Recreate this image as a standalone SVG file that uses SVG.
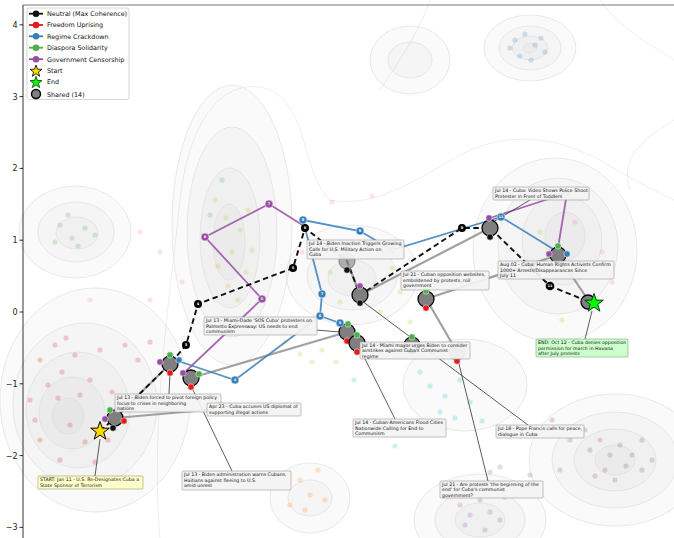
<svg xmlns="http://www.w3.org/2000/svg" width="674" height="538" viewBox="0 0 674 538">
  <style>
    text { font-family: 'DejaVu Sans', 'Liberation Sans', sans-serif; }
    .kde { fill: #000; fill-opacity: 0.018; stroke: #dadada; stroke-width: 0.6; }
    .kdeline { fill: none; stroke: #e2e2e2; stroke-width: 0.6; }
    .pt { stroke: none; fill-opacity: 0.22; }
    .shared { stroke: #8a8a8a; stroke-opacity: 0.8; stroke-width: 2.2; fill: none; stroke-linecap: round; }
    .leader { stroke: #333; stroke-width: 0.8; fill: none; }
    .neutral { stroke: #111; stroke-width: 1.9; fill: none; stroke-dasharray: 5.5 3.5; }
    .crack { stroke: #377eb8; stroke-width: 1.8; fill: none; stroke-opacity: 0.85; }
    .censor { stroke: #984ea3; stroke-width: 1.8; fill: none; stroke-opacity: 0.85; }
    .node { fill: #7f7f7f; stroke: #000; stroke-width: 1.3; }
    .node-faint { fill: #9a9a9a; fill-opacity: 0.75; stroke: #8a8a8a; stroke-width: 1.1; }
    .badge { stroke: #fff; stroke-width: 0.5; }
    .num { fill: #fff; font-size: 3.6px; font-weight: bold; text-anchor: middle; }
    .box { fill: #f3f3f3; fill-opacity: 0.92; stroke: #9a9a9a; stroke-width: 0.6; }
    .lbl { font-size: 4.7px; fill: #111; }
    .leg { font-size: 6.4px; fill: #111; }
    .tick { font-size: 8px; fill: #222; text-anchor: end; }
  </style>

  <rect x="0" y="0" width="674" height="538" fill="#ffffff"/>

  <!-- density contours -->
  <g id="density">
    <path class="kdeline" d="M160,540 C150,420 170,300 180,200 C190,110 230,75 270,90 C310,110 300,170 330,200 C380,210 430,170 470,150 C520,130 560,140 600,160 C650,190 674,200 674,200"/>
    <path class="kdeline" d="M430,0 C420,30 400,60 380,90 M600,0 C620,30 660,50 674,60 M674,120 C640,140 620,160 630,190"/>
    <ellipse class="kde" cx="95" cy="400" rx="95" ry="112"/>
    <ellipse class="kde" cx="85" cy="405" rx="72" ry="82"/>
    <ellipse class="kde" cx="78" cy="410" rx="52" ry="58"/>
    <ellipse class="kde" cx="72" cy="413" rx="33" ry="36"/>
    <ellipse class="kde" cx="68" cy="416" rx="16" ry="18"/>

    <ellipse class="kde" cx="75" cy="232" rx="56" ry="46"/>
    <ellipse class="kde" cx="76" cy="232" rx="38" ry="30"/>
    <ellipse class="kde" cx="77" cy="233" rx="21" ry="16"/>

    <ellipse class="kde" cx="232" cy="225" rx="60" ry="140"/>
    <ellipse class="kde" cx="232" cy="232" rx="45" ry="105"/>
    <ellipse class="kde" cx="230" cy="238" rx="30" ry="70"/>
    <ellipse class="kde" cx="229" cy="242" rx="16" ry="38"/>

    <ellipse class="kde" cx="352" cy="275" rx="66" ry="50"/>
    <ellipse class="kde" cx="352" cy="276" rx="45" ry="34"/>
    <ellipse class="kde" cx="352" cy="278" rx="24" ry="18"/>

    <ellipse class="kde" cx="555" cy="250" rx="82" ry="92"/>
    <ellipse class="kde" cx="558" cy="246" rx="60" ry="68"/>
    <ellipse class="kde" cx="562" cy="240" rx="40" ry="45"/>
    <ellipse class="kde" cx="565" cy="236" rx="20" ry="24"/>

    <ellipse class="kde" cx="530" cy="48" rx="46" ry="33"/>
    <ellipse class="kde" cx="530" cy="48" rx="31" ry="22"/>
    <ellipse class="kde" cx="530" cy="48" rx="18" ry="12"/>
    <ellipse class="kde" cx="530" cy="48" rx="7" ry="5"/>

    <ellipse class="kde" cx="410" cy="60" rx="40" ry="34"/>
    <ellipse class="kde" cx="410" cy="60" rx="22" ry="18"/>

    <ellipse class="kde" cx="615" cy="460" rx="86" ry="66"/>
    <ellipse class="kde" cx="615" cy="460" rx="63" ry="48"/>
    <ellipse class="kde" cx="615" cy="460" rx="41" ry="31"/>
    <ellipse class="kde" cx="615" cy="460" rx="20" ry="15"/>

    <ellipse class="kde" cx="480" cy="520" rx="66" ry="46"/>
    <ellipse class="kde" cx="480" cy="520" rx="45" ry="31"/>
    <ellipse class="kde" cx="480" cy="520" rx="25" ry="17"/>

    <ellipse class="kde" cx="310" cy="498" rx="40" ry="35"/>
    <ellipse class="kde" cx="310" cy="498" rx="22" ry="18"/>

    <ellipse class="kde" cx="465" cy="385" rx="62" ry="46"/>
  </g>

  <!-- article points -->
  <g id="points">
    <g class="pt" fill="#e41a1c">
      <circle cx="40" cy="360" r="2.6"/><circle cx="55" cy="345" r="2.6"/><circle cx="62" cy="372" r="2.6"/>
      <circle cx="75" cy="355" r="2.6"/><circle cx="48" cy="385" r="2.6"/><circle cx="90" cy="380" r="2.6"/>
      <circle cx="30" cy="400" r="2.6"/><circle cx="58" cy="398" r="2.6"/><circle cx="70" cy="425" r="2.6"/>
      <circle cx="85" cy="442" r="2.6"/><circle cx="40" cy="440" r="2.6"/><circle cx="100" cy="350" r="2.6"/>
      <circle cx="112" cy="392" r="2.6"/><circle cx="125" cy="345" r="2.6"/><circle cx="60" cy="460" r="2.6"/>
      <circle cx="95" cy="462" r="2.6"/><circle cx="35" cy="420" r="2.6"/><circle cx="108" cy="440" r="2.6"/>
      <circle cx="80" cy="395" r="2.6"/><circle cx="138" cy="360" r="2.6"/><circle cx="66" cy="338" r="2.6"/>
      <circle cx="150" cy="342" r="2.6"/>
    </g>
    <g class="pt" fill="#4daf4a">
      <circle cx="60" cy="225" r="2.6"/><circle cx="72" cy="238" r="2.6"/><circle cx="85" cy="228" r="2.6"/>
      <circle cx="78" cy="246" r="2.6"/><circle cx="95" cy="235" r="2.6"/><circle cx="55" cy="242" r="2.6"/>
      <circle cx="68" cy="215" r="2.6"/><circle cx="222" cy="180" r="2.6"/><circle cx="210" cy="215" r="2.6"/>
    </g>
    <g class="pt" fill="#bcbd22">
      <circle cx="215" cy="200" r="2.6"/><circle cx="226" cy="218" r="2.6"/><circle cx="240" cy="230" r="2.6"/>
      <circle cx="232" cy="252" r="2.6"/><circle cx="218" cy="266" r="2.6"/><circle cx="246" cy="272" r="2.6"/>
      <circle cx="228" cy="286" r="2.6"/><circle cx="238" cy="300" r="2.6"/><circle cx="252" cy="250" r="2.6"/>
      <circle cx="248" cy="210" r="2.6"/><circle cx="235" cy="320" r="2.6"/><circle cx="262" cy="318" r="2.6"/>
      <circle cx="272" cy="330" r="2.6"/><circle cx="285" cy="342" r="2.6"/><circle cx="300" cy="354" r="2.6"/>
      <circle cx="312" cy="362" r="2.6"/><circle cx="330" cy="272" r="2.6"/><circle cx="362" cy="250" r="2.6"/>
      <circle cx="392" cy="268" r="2.6"/><circle cx="400" cy="292" r="2.6"/><circle cx="380" cy="312" r="2.6"/>
      <circle cx="340" cy="302" r="2.6"/><circle cx="410" cy="322" r="2.6"/><circle cx="322" cy="350" r="2.6"/>
      <circle cx="336" cy="362" r="2.6"/><circle cx="540" cy="232" r="2.6"/><circle cx="562" cy="320" r="2.6"/>
    </g>
    <g class="pt" fill="#377eb8">
      <circle cx="515" cy="40" r="2.6"/><circle cx="525" cy="34" r="2.6"/><circle cx="535" cy="45" r="2.6"/>
      <circle cx="545" cy="52" r="2.6"/><circle cx="520" cy="56" r="2.6"/><circle cx="531" cy="60" r="2.6"/>
      <circle cx="541" cy="38" r="2.6"/><circle cx="510" cy="48" r="2.6"/>
    </g>
    <g class="pt" fill="#8c564b">
      <circle cx="590" cy="450" r="2.6"/><circle cx="600" cy="440" r="2.6"/><circle cx="610" cy="455" r="2.6"/>
      <circle cx="620" cy="445" r="2.6"/><circle cx="626" cy="466" r="2.6"/><circle cx="605" cy="470" r="2.6"/>
      <circle cx="615" cy="480" r="2.6"/><circle cx="595" cy="476" r="2.6"/><circle cx="632" cy="455" r="2.6"/>
      <circle cx="642" cy="470" r="2.6"/><circle cx="570" cy="440" r="2.6"/><circle cx="585" cy="430" r="2.6"/>
      <circle cx="560" cy="470" r="2.6"/><circle cx="642" cy="440" r="2.6"/><circle cx="652" cy="460" r="2.6"/>
      <circle cx="530" cy="475" r="2.6"/><circle cx="552" cy="420" r="2.6"/>
    </g>
    <g class="pt" fill="#984ea3">
      <circle cx="460" cy="505" r="2.6"/><circle cx="470" cy="515" r="2.6"/><circle cx="480" cy="500" r="2.6"/>
      <circle cx="490" cy="512" r="2.6"/><circle cx="465" cy="525" r="2.6"/><circle cx="500" cy="520" r="2.6"/>
      <circle cx="455" cy="492" r="2.6"/><circle cx="505" cy="497" r="2.6"/><circle cx="485" cy="530" r="2.6"/>
      <circle cx="500" cy="467" r="2.6"/><circle cx="490" cy="472" r="2.6"/>
    </g>
    <g class="pt" fill="#17becf">
      <circle cx="420" cy="372" r="2.6"/><circle cx="430" cy="386" r="2.6"/><circle cx="445" cy="396" r="2.6"/>
      <circle cx="460" cy="380" r="2.6"/><circle cx="470" cy="402" r="2.6"/><circle cx="440" cy="412" r="2.6"/>
      <circle cx="455" cy="418" r="2.6"/><circle cx="432" cy="350" r="2.6"/><circle cx="482" cy="421" r="2.6"/>
      <circle cx="395" cy="446" r="2.6"/><circle cx="374" cy="432" r="2.6"/><circle cx="354" cy="380" r="2.6"/>
    </g>
    <g class="pt" fill="#ff7f0e">
      <circle cx="300" cy="480" r="2.6"/><circle cx="310" cy="495" r="2.6"/><circle cx="318" cy="470" r="2.6"/>
      <circle cx="305" cy="510" r="2.6"/><circle cx="325" cy="500" r="2.6"/><circle cx="290" cy="505" r="2.6"/>
    </g>
    <g class="pt" fill="#f781bf">
      <circle cx="140" cy="232" r="2.6"/><circle cx="160" cy="252" r="2.6"/><circle cx="150" cy="300" r="2.6"/>
      <circle cx="182" cy="282" r="2.6"/><circle cx="302" cy="252" r="2.6"/><circle cx="332" cy="202" r="2.6"/>
      <circle cx="372" cy="196" r="2.6"/><circle cx="575" cy="222" r="2.6"/><circle cx="602" cy="252" r="2.6"/>
      <circle cx="612" cy="282" r="2.6"/><circle cx="90" cy="300" r="2.6"/>
    </g>
  </g>

  <!-- connectors -->
  <g id="connectors">
    <!-- segments shared by several trails -->
    <path class="shared" d="M115,418 L170,364"/>
    <path class="shared" d="M115,418 L207,410"/>
    <path class="shared" d="M191,378 L347,332"/>
    <path class="shared" d="M347,332 L357,343"/>
    <path class="shared" d="M347,261 L360,295"/>
    <path class="shared" d="M360,295 L490,228"/>
    <path class="shared" d="M357,343 L412,345"/>
    <path class="shared" d="M426,299 L558,255"/>
    <path class="shared" d="M428,302 L457,352"/>
    <path class="shared" d="M558,255 L590,303"/>

    <!-- single-storyline trails -->
    <path class="crack" d="M181,362 L235,380 L320,316 L322,294 L303,220 L360,231 L392,250 L501,217 L558,252"/>
    <path class="crack" d="M320,316 L340,323"/>
    <path class="censor" d="M185,372 L262,299 L205,237 L269,204 L304,226"/>
    <path class="censor" d="M490,218 L567,193 L558,248"/>
    <path class="neutral" d="M100,431 L115,418 L170,364 L186,345 L198,304 L293,268 L305,228 L347,261 L360,295 L462,228 L490,228 L550,286 L592,303"/>

    <!-- annotation leaders -->
    <path class="leader" d="M95,476 L100,439"/>
    <path class="leader" d="M169,394 L170,372"/>
    <path class="leader" d="M232,471 L191,386"/>
    <path class="leader" d="M316,330 L340,332"/>
    <path class="leader" d="M395,419 L361,351"/>
    <path class="leader" d="M528,425 L362,301"/>
    <path class="leader" d="M488,481 L458,360"/>
    <path class="leader" d="M530,200 L493,222"/>
    <path class="leader" d="M585,339 L592,311"/>
  </g>

  <!-- shared nodes -->
  <g id="n-start-shared"><circle class="node" cx="115" cy="418" r="8"/>
    <circle class="badge" cx="110" cy="410" r="3.2" fill="#4daf4a"/><circle class="badge" cx="118" cy="409" r="3.2" fill="#377eb8"/>
    <circle class="badge" cx="105" cy="419" r="3.2" fill="#984ea3"/><circle class="badge" cx="124" cy="421" r="3.2" fill="#e41a1c"/>
    <circle class="badge" cx="113" cy="428" r="3.2" fill="#111"/></g>
  <g id="n-jul13-pivot"><circle class="node" cx="170" cy="364" r="8"/>
    <circle class="badge" cx="170" cy="355" r="3.2" fill="#4daf4a"/><circle class="badge" cx="160" cy="362" r="3.2" fill="#984ea3"/>
    <circle class="badge" cx="179" cy="360" r="3.2" fill="#377eb8"/><circle class="badge" cx="170" cy="373" r="3.2" fill="#e41a1c"/></g>
  <g id="n-jul13-warns"><circle class="node" cx="191" cy="378" r="8"/>
    <circle class="badge" cx="183" cy="373" r="3.2" fill="#984ea3"/><circle class="badge" cx="199" cy="374" r="3.2" fill="#4daf4a"/>
    <circle class="badge" cx="191" cy="387" r="3.2" fill="#e41a1c"/></g>
  <g id="n-jul13-sos"><circle class="node" cx="347" cy="332" r="8"/>
    <circle class="badge" cx="348" cy="324" r="3.2" fill="#4daf4a"/><circle class="badge" cx="347" cy="341" r="3.2" fill="#e41a1c"/></g>
  <g id="n-jul14-flood"><circle class="node" cx="357" cy="343" r="8"/>
    <circle class="badge" cx="357" cy="335" r="3.2" fill="#4daf4a"/><circle class="badge" cx="357" cy="352" r="3.2" fill="#e41a1c"/></g>
  <g id="n-jul14-inaction"><circle class="node-faint" cx="347" cy="261" r="8"/>
    <circle class="badge" cx="348" cy="253" r="3.2" fill="#c79ccf"/><circle class="badge" cx="347" cy="270" r="3.2" fill="#111"/></g>
  <g id="n-jul18-pope"><circle class="node" cx="360" cy="295" r="8"/>
    <circle class="badge" cx="360" cy="286" r="3.2" fill="#984ea3"/><circle class="badge" cx="360" cy="303" r="3.2" fill="#111"/></g>
  <g id="n-jul14-mayor"><circle class="node" cx="412" cy="345" r="8"/>
    <circle class="badge" cx="412" cy="337" r="3.2" fill="#4daf4a"/></g>
  <g id="n-jul21-websites"><circle class="node" cx="426" cy="299" r="8"/>
    <circle class="badge" cx="426" cy="291" r="3.2" fill="#4daf4a"/><circle class="badge" cx="426" cy="308" r="3.2" fill="#e41a1c"/></g>
  <g id="n-jul21-protests"><circle class="node-faint" cx="457" cy="352" r="8"/>
    <circle class="badge" cx="457" cy="361" r="3.2" fill="#e41a1c"/></g>
  <g id="n-jul14-video"><circle class="node" cx="490" cy="228" r="8"/>
    <circle class="badge" cx="489" cy="218" r="3.2" fill="#984ea3"/><circle class="badge" cx="490" cy="237" r="3.2" fill="#111"/></g>
  <g id="n-aug02"><circle class="node" cx="558" cy="255" r="8"/>
    <circle class="badge" cx="558" cy="246" r="3.2" fill="#4daf4a"/><circle class="badge" cx="549" cy="254" r="3.2" fill="#984ea3"/>
    <circle class="badge" cx="567" cy="254" r="3.2" fill="#377eb8"/></g>
  <g id="n-end-shared"><circle class="node" cx="588" cy="302" r="7"/></g>

  <!-- trail steps -->
  <g id="neutral-steps">
    <circle cx="186" cy="345" r="4" fill="#000"/><text class="num" x="186" y="346.3">3</text>
    <circle cx="198" cy="304" r="4" fill="#000"/><text class="num" x="198" y="305.3">4</text>
    <circle cx="293" cy="268" r="4" fill="#000"/><text class="num" x="293" y="269.3">5</text>
    <circle cx="305" cy="228" r="4" fill="#000"/><text class="num" x="305" y="229.3">6</text>
    <circle cx="462" cy="228" r="4" fill="#000"/><text class="num" x="462" y="229.3">9</text>
    <circle cx="550" cy="286" r="4.3" fill="#000"/><text class="num" x="550" y="287.3">11</text>
  </g>
  <g id="crackdown-steps">
    <circle class="badge" cx="235" cy="380" r="4" fill="#377eb8"/><text class="num" x="235" y="381.3">4</text>
    <circle class="badge" cx="340" cy="323" r="4" fill="#377eb8"/><text class="num" x="340" y="324.3">5</text>
    <circle class="badge" cx="320" cy="316" r="4" fill="#377eb8"/><text class="num" x="320" y="317.3">6</text>
    <circle class="badge" cx="322" cy="294" r="4" fill="#377eb8"/><text class="num" x="322" y="295.3">7</text>
    <circle class="badge" cx="303" cy="220" r="4" fill="#377eb8"/><text class="num" x="303" y="221.3">8</text>
    <circle class="badge" cx="360" cy="231" r="4" fill="#377eb8"/><text class="num" x="360" y="232.3">9</text>
    <circle class="badge" cx="392" cy="250" r="4" fill="#377eb8" fill-opacity="0.45"/><text class="num" x="392" y="251.3">10</text>
    <circle class="badge" cx="501" cy="217" r="4" fill="#377eb8"/><text class="num" x="501" y="218.3">11</text>
  </g>
  <g id="censorship-steps">
    <circle class="badge" cx="262" cy="299" r="4" fill="#984ea3"/><text class="num" x="262" y="300.3">5</text>
    <circle class="badge" cx="205" cy="237" r="4" fill="#984ea3"/><text class="num" x="205" y="238.3">6</text>
    <circle class="badge" cx="269" cy="204" r="4" fill="#984ea3"/><text class="num" x="269" y="205.3">7</text>
    <circle class="badge" cx="567" cy="193" r="4" fill="#c79ccf"/>
  </g>

  <!-- start and end -->
  <g id="start">
    <polygon points="100,421.5 102.3,428.1 109.3,428.2 103.7,432.4 105.8,439.1 100,435.1 94.2,439.1 96.3,432.4 90.7,428.2 97.7,428.1" fill="#ffd700" stroke="#000" stroke-width="1"/>
  </g>
  <g id="end">
    <polygon points="594,293.5 596.3,300.1 603.3,300.2 597.7,304.4 599.8,311.1 594,307.1 588.2,311.1 590.3,304.4 584.7,300.2 591.7,300.1" fill="#00ff00" stroke="#0a3d0a" stroke-width="1"/>
  </g>

  <!-- annotations -->
  <g id="lbl-start">
    <rect x="38" y="476" width="105" height="13" rx="1" fill="#ffffcc" stroke="#9a9a66" stroke-width="0.6"/>
    <text class="lbl" x="40" y="481"><tspan x="40">START: Jan 11 - U.S. Re-Designates Cuba a</tspan><tspan x="40" dy="5.5">State Sponsor of Terrorism</tspan></text>
  </g>
  <g id="lbl-pivot">
    <rect class="box" x="115" y="394" width="106" height="18" rx="1"/>
    <text class="lbl" x="117" y="399"><tspan x="117">Jul 13 - Biden forced to pivot foreign policy</tspan><tspan x="117" dy="5.5">focus to crises in neighboring</tspan><tspan x="117" dy="5.5">nations</tspan></text>
  </g>
  <g id="lbl-apr23">
    <rect class="box" x="207" y="403" width="94" height="13" rx="1"/>
    <text class="lbl" x="209" y="408"><tspan x="209">Apr 23 - Cuba accuses US diplomat of</tspan><tspan x="209" dy="5.5">supporting illegal actions</tspan></text>
  </g>
  <g id="lbl-warns">
    <rect class="box" x="182" y="471" width="109" height="19" rx="1"/>
    <text class="lbl" x="184" y="476"><tspan x="184">Jul 13 - Biden administration warns Cubans,</tspan><tspan x="184" dy="5.5">Haitians against fleeing to U.S.</tspan><tspan x="184" dy="5.5">amid unrest</tspan></text>
  </g>
  <g id="lbl-sos">
    <rect class="box" x="204" y="317" width="113" height="18" rx="1"/>
    <text class="lbl" x="206" y="322"><tspan x="206">Jul 13 - Miami-Dade 'SOS Cuba' protesters on</tspan><tspan x="206" dy="5.5">Palmetto Expressway: US needs to end</tspan><tspan x="206" dy="5.5">communism</tspan></text>
  </g>
  <g id="lbl-inaction">
    <rect class="box" x="307" y="240" width="97" height="19" rx="1"/>
    <text class="lbl" x="309" y="245"><tspan x="309">Jul 14 - Biden Inaction Triggers Growing</tspan><tspan x="309" dy="5.5">Calls for U.S. Military Action on</tspan><tspan x="309" dy="5.5">Cuba</tspan></text>
  </g>
  <g id="lbl-mayor">
    <rect class="box" x="360" y="342" width="110" height="17" rx="1"/>
    <text class="lbl" x="362" y="347"><tspan x="362">Jul 14 - Miami mayor urges Biden to consider</tspan><tspan x="362" dy="5.3">airstrikes against Cuba's Communist</tspan><tspan x="362" dy="5.3">regime</tspan></text>
  </g>
  <g id="lbl-flood">
    <rect class="box" x="353" y="419" width="93" height="18" rx="1"/>
    <text class="lbl" x="355" y="424"><tspan x="355">Jul 14 - Cuban-Americans Flood Cities</tspan><tspan x="355" dy="5.5">Nationwide Calling for End to</tspan><tspan x="355" dy="5.5">Communism</tspan></text>
  </g>
  <g id="lbl-pope">
    <rect class="box" x="496" y="425" width="88" height="13" rx="1"/>
    <text class="lbl" x="498" y="430"><tspan x="498">Jul 18 - Pope Francis calls for peace,</tspan><tspan x="498" dy="5.5">dialogue in Cuba</tspan></text>
  </g>
  <g id="lbl-protests">
    <rect class="box" x="440" y="481" width="103" height="17" rx="1"/>
    <text class="lbl" x="442" y="486"><tspan x="442">Jul 21 - Are protests 'the beginning of the</tspan><tspan x="442" dy="5.3">end' for Cuba's communist</tspan><tspan x="442" dy="5.3">government?</tspan></text>
  </g>
  <g id="lbl-websites">
    <rect class="box" x="401" y="271" width="88" height="19" rx="1"/>
    <text class="lbl" x="403" y="276"><tspan x="403">Jul 21 - Cuban opposition websites,</tspan><tspan x="403" dy="5.5">emboldened by protests, roil</tspan><tspan x="403" dy="5.5">government</tspan></text>
  </g>
  <g id="lbl-aug02">
    <rect class="box" x="498" y="261" width="116" height="18" rx="1"/>
    <text class="lbl" x="500" y="266"><tspan x="500">Aug 02 - Cuba: Human Rights Activists Confirm</tspan><tspan x="500" dy="5.5">1000+ Arrests/Disappearances Since</tspan><tspan x="500" dy="5.5">July 11</tspan></text>
  </g>
  <g id="lbl-video">
    <rect class="box" x="493" y="187" width="96" height="13" rx="1"/>
    <text class="lbl" x="495" y="192"><tspan x="495">Jul 14 - Cuba: Video Shows Police Shoot</tspan><tspan x="495" dy="5.5">Protester in Front of Toddlers</tspan></text>
  </g>
  <g id="lbl-end">
    <rect x="536" y="339" width="92" height="18" rx="1" fill="#ccffcc" stroke="#7aa87a" stroke-width="0.6"/>
    <text class="lbl" x="538" y="344"><tspan x="538">END: Oct 12 - Cuba denies opposition</tspan><tspan x="538" dy="5.5">permission for march in Havana</tspan><tspan x="538" dy="5.5">after July protests</tspan></text>
  </g>

  <!-- legend -->
  <g id="legend">
    <rect x="27" y="8" width="102" height="91.5" rx="2" fill="#fff" fill-opacity="0.9" stroke="#cccccc" stroke-width="0.8"/>
    <line x1="29" y1="13.7" x2="43" y2="13.7" stroke="#111" stroke-width="1.8"/><circle cx="36" cy="13.7" r="3.3" fill="#111"/>
    <text class="leg" x="47" y="16">Neutral (Max Coherence)</text>
    <line x1="29" y1="25" x2="43" y2="25" stroke="#e41a1c" stroke-width="1.8"/><circle cx="36" cy="25" r="3.3" fill="#e41a1c"/>
    <text class="leg" x="47" y="27.3">Freedom Uprising</text>
    <line x1="29" y1="36.3" x2="43" y2="36.3" stroke="#377eb8" stroke-width="1.8"/><circle cx="36" cy="36.3" r="3.3" fill="#377eb8"/>
    <text class="leg" x="47" y="38.6">Regime Crackdown</text>
    <line x1="29" y1="47.7" x2="43" y2="47.7" stroke="#4daf4a" stroke-width="1.8"/><circle cx="36" cy="47.7" r="3.3" fill="#4daf4a"/>
    <text class="leg" x="47" y="50">Diaspora Solidarity</text>
    <line x1="29" y1="59.2" x2="43" y2="59.2" stroke="#984ea3" stroke-width="1.8"/><circle cx="36" cy="59.2" r="3.3" fill="#984ea3"/>
    <text class="leg" x="47" y="61.5">Government Censorship</text>
    <polygon points="36,65 37.5,69.2 42,69.3 38.4,72 39.7,76.3 36,73.7 32.3,76.3 33.6,72 30,69.3 34.5,69.2" fill="#ffd700" stroke="#000" stroke-width="0.8"/>
    <text class="leg" x="47" y="73">Start</text>
    <polygon points="36,76.3 37.5,80.5 42,80.6 38.4,83.3 39.7,87.6 36,85 32.3,87.6 33.6,83.3 30,80.6 34.5,80.5" fill="#00ff00" stroke="#0a3d0a" stroke-width="0.8"/>
    <text class="leg" x="47" y="84.3">End</text>
    <circle cx="36" cy="94" r="4.5" fill="#7f7f7f" stroke="#000" stroke-width="1.4"/>
    <text class="leg" x="47" y="96.5">Shared (14)</text>
  </g>

  <!-- axes -->
  <g id="axes">
    <line x1="23" y1="5" x2="23" y2="538" stroke="#000" stroke-width="0.8"/>
    <line x1="23" y1="5" x2="674" y2="5" stroke="#555" stroke-width="0.8"/>
    <g stroke="#000" stroke-width="0.8">
      <line x1="19.5" y1="24.8" x2="23" y2="24.8"/><line x1="19.5" y1="96.6" x2="23" y2="96.6"/>
      <line x1="19.5" y1="168.4" x2="23" y2="168.4"/><line x1="19.5" y1="240.2" x2="23" y2="240.2"/>
      <line x1="19.5" y1="312" x2="23" y2="312"/><line x1="19.5" y1="383.8" x2="23" y2="383.8"/>
      <line x1="19.5" y1="455.6" x2="23" y2="455.6"/><line x1="19.5" y1="527.4" x2="23" y2="527.4"/>
    </g>
    <text class="tick" x="17.5" y="27.8">4</text>
    <text class="tick" x="17.5" y="99.6">3</text>
    <text class="tick" x="17.5" y="171.4">2</text>
    <text class="tick" x="17.5" y="243.2">1</text>
    <text class="tick" x="17.5" y="315">0</text>
    <text class="tick" x="17.5" y="386.8">−1</text>
    <text class="tick" x="17.5" y="458.6">−2</text>
    <text class="tick" x="17.5" y="530.4">−3</text>
  </g>
</svg>
